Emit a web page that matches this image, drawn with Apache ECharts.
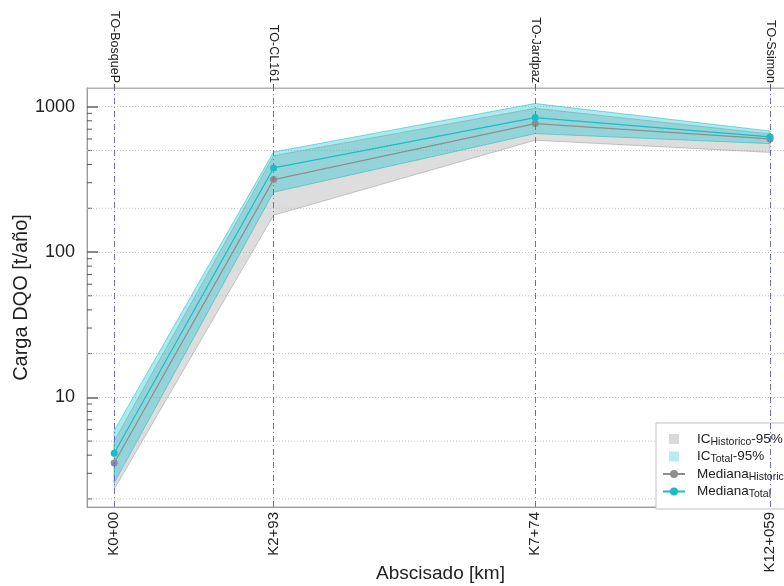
<!DOCTYPE html>
<html><head><meta charset="utf-8">
<script src="https://cdn.jsdelivr.net/npm/echarts@6/dist/echarts.min.js"></script>
<style>html,body{margin:0;padding:0;background:#fff}#c{width:784px;height:586px}</style>
</head><body><div id="c"></div>
<script>
// ---- data ----
const stations = ['TO-BosqueP', 'TO-CL161', 'TO-Jardpaz', 'TO-Ssimon'];
const abscisaLabels = ['K0+00', 'K2+93', 'K7+74', 'K12+059'];
const abscisaKm = [0, 2.93, 7.74, 12.059];
const histMedian = [3.53, 315, 765, 600];
const totalMedian = [4.12, 379, 842, 620];
const histLower = [2.33, 179, 588, 485];
const histUpper = [5.0, 460, 975, 650];
const totalLower = [2.58, 258, 653, 557];
const totalUpper = [5.9, 488, 1052, 680];
const yTickValues = [10, 100, 1000];
const minorTickValues = [2,3,4,5,6,7,8,9,20,30,40,50,60,70,80,90,200,300,400,500,600,700,800,900];
const minorGridValues = [2,5,20,50,200,500];

const FONT = 'Liberation Sans, Arial, sans-serif';
const pts = arr => abscisaKm.map((k, i) => [k, arr[i]]);
const gridSet = new Set(minorGridValues);

function bandSeries(name, lower, upper, fill, stroke, z) {
  return {
    type: 'custom', name: name, silent: true, z: z,
    data: abscisaKm.map((k, i) => [k, lower[i], upper[i]]),
    encode: {x: 0, y: [1, 2]},
    itemStyle: {color: fill},
    renderItem: (params, api) => {
      if (params.dataIndex !== 0) return null;
      const top = abscisaKm.map((k, i) => api.coord([k, upper[i]]));
      const bot = abscisaKm.map((k, i) => api.coord([k, lower[i]])).reverse();
      return {
        type: 'polygon',
        shape: {points: top.concat(bot)},
        style: {fill: fill, stroke: stroke, lineWidth: 1}
      };
    }
  };
}

const chart = echarts.init(document.getElementById('c'), null, {renderer: 'canvas'});
const stationLines = {
  silent: true, symbol: ['none', 'none'], label: {show: false},
  lineStyle: {color: '#6f6fc6', type: [6, 3, 1, 3], width: 1},
  data: abscisaKm.map(k => ({xAxis: k}))
};

chart.setOption({
  animation: false,
  backgroundColor: '#fff',
  textStyle: {fontFamily: FONT},
  grid: {left: 87, right: -10, top: 88, bottom: 79, show: true, borderColor: '#b0b0b0', borderWidth: 1, outerBoundsMode: 'none', containLabel: false},
  xAxis: [{
    type: 'value', min: -0.5, max: 12.5, position: 'bottom',
    name: 'Abscisado [km]', nameLocation: 'middle', nameGap: 57, nameMoveOverlap: false,
    nameTextStyle: {fontSize: 19, color: '#222', fontFamily: FONT, verticalAlign: 'top'},
    axisLine: {show: true, onZero: false, lineStyle: {color: '#9a9a9a'}},
    axisTick: {show: false},
    splitLine: {show: false},
    axisLabel: {
      customValues: abscisaKm, rotate: 90, margin: 5, fontSize: 15, color: '#222', fontFamily: FONT,
      formatter: v => { const i = abscisaKm.findIndex(k => Math.abs(k - v) < 1e-6); return i >= 0 ? abscisaLabels[i] : ''; }
    }
  }, {
    type: 'value', min: -0.5, max: 12.5, position: 'top',
    axisLine: {show: true, onZero: false, lineStyle: {color: '#b0b0b0'}},
    axisTick: {show: true, customValues: abscisaKm, length: 4, lineStyle: {color: '#555'}},
    splitLine: {show: false},
    axisLabel: {
      customValues: abscisaKm, rotate: 90, margin: 5, fontSize: 12.5, color: '#222', fontFamily: FONT,
      formatter: v => { const i = abscisaKm.findIndex(k => Math.abs(k - v) < 1e-6); return i >= 0 ? stations[i] : ''; }
    }
  }],
  yAxis: {
    type: 'log', logBase: 10, min: 1.76, max: 1345,
    name: 'Carga DQO [t/año]', nameLocation: 'middle', nameGap: 56, nameMoveOverlap: false,
    nameTextStyle: {fontSize: 20, color: '#222', fontFamily: FONT},
    axisLine: {show: true, onZero: false, lineStyle: {color: '#9a9a9a'}},
    axisTick: {show: true, inside: true, length: 11, lineStyle: {color: '#666', width: 1.5}},
    splitLine: {show: true, lineStyle: {color: '#c4c4c4', type: [1, 2]}},
    axisLabel: {
      showMinLabel: false, showMaxLabel: false, fontSize: 18, color: '#222', margin: 12, fontFamily: FONT,
      formatter: v => { const r = Math.round(v); return yTickValues.includes(r) ? String(r) : ''; }
    }
  },
  legend: {
    orient: 'vertical', left: 656, top: 423,
    backgroundColor: '#fff', borderColor: '#c0c0c0', borderWidth: 1,
    padding: [9, 8, 9, 6], itemGap: 2, itemWidth: 22, itemHeight: 10,
    data: [
      {name: 'ICH', icon: 'path://M0 0H10V10H0Z', itemStyle: {color: '#dadada', borderWidth: 0}},
      {name: 'ICT', icon: 'path://M0 0H10V10H0Z', itemStyle: {color: '#b6ecef', borderWidth: 0}},
      'MedH', 'MedT'
    ],
    formatter: n => ({
      ICH: '{g|}{b|IC}{s|Historico}{b|-95%}',
      ICT: '{g|}{b|IC}{s|Total}{b|-95%}',
      MedH: '{g|}{b|Mediana}{s|Historico}',
      MedT: '{g|}{b|Mediana}{s|Total}'
    })[n],
    textStyle: {
      fontFamily: FONT, fontSize: 13.5, color: '#222',
      rich: {
        g: {width: 7, lineHeight: 17},
        b: {fontSize: 13.5, lineHeight: 17, color: '#222', fontFamily: FONT},
        s: {fontSize: 10.5, lineHeight: 10, verticalAlign: 'bottom', color: '#222', fontFamily: FONT}
      }
    }
  },
  series: [
    {
      type: 'custom', name: 'minor', silent: true, z: 1,
      data: minorTickValues.map(v => [0, v]),
      renderItem: (params, api) => {
        const v = api.value(1);
        const y = api.coord([0, v])[1];
        const cs = params.coordSys;
        const ch = [{type: 'line', shape: {x1: cs.x, y1: y, x2: cs.x + 5, y2: y}, style: {stroke: '#555', lineWidth: 1}}];
        if (gridSet.has(v)) ch.push({type: 'line', shape: {x1: cs.x, y1: y, x2: cs.x + cs.width, y2: y}, style: {stroke: '#c4c4c4', lineWidth: 1, lineDash: [1, 2]}});
        return {type: 'group', children: ch};
      }
    },
    bandSeries('ICH', histLower, histUpper, 'rgba(175,175,175,0.42)', 'rgba(150,150,150,0.5)', 2),
    bandSeries('ICT', totalLower, totalUpper, 'rgba(0,195,205,0.33)', 'rgba(30,185,195,0.55)', 3),
    {
      type: 'line', name: 'MedH', data: pts(histMedian), symbol: 'circle', symbolSize: 7, z: 4,
      lineStyle: {color: '#8e8e8e', width: 1.2}, itemStyle: {color: '#8e8e8e'},
      markLine: stationLines
    },
    {
      type: 'line', name: 'MedT', data: pts(totalMedian), symbol: 'circle', symbolSize: 7, z: 5,
      lineStyle: {color: '#1bbcc6', width: 1.2}, itemStyle: {color: '#1bbcc6'}
    }
  ]
});
</script></body></html>
